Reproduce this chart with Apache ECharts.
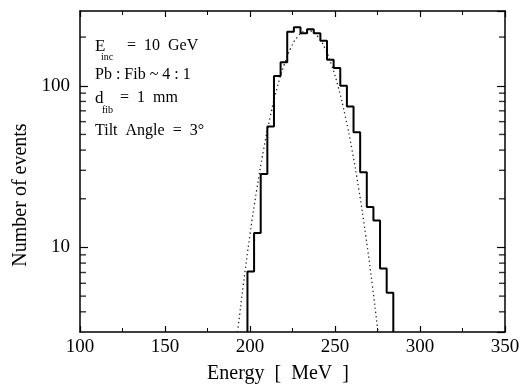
<!DOCTYPE html>
<html><head><meta charset="utf-8">
<script src="https://cdn.jsdelivr.net/npm/echarts@6/dist/echarts.min.js"></script>
<style>html,body{margin:0;padding:0;background:#fff}#c{width:532px;height:391px}</style>
</head><body><div id="c"></div>
<script>
// Histogram: lower bin edges (MeV) and counts
const binEdges = [198.5, 202.4, 206.3, 210.2, 214.1, 218.0, 221.9, 225.8, 229.7, 233.6, 237.5,
                  241.4, 245.3, 249.2, 253.1, 257.0, 260.9, 264.8, 268.7, 272.6, 276.5, 280.4];
const binUpper = 284.3;
const counts = [7.1, 12.3, 28.5, 56, 115, 140, 216, 230, 211, 224, 211,
                190, 145, 129, 100, 74.5, 51.5, 29.2, 17.8, 14.7, 7.4, 5.25];
// Dotted fit curve
const fitE = [192.6, 193, 196, 200, 204, 208, 212, 216, 220, 224, 228, 232, 234,
              236, 240, 244, 248, 252, 256, 260, 264, 268, 272, 275, 275.4];
const fitN = [3.0, 3.2, 5.8, 12.0, 22.9, 40.2, 65.1, 97.4, 134, 171, 201, 218, 220,
              218, 201, 171, 134, 97.4, 65.1, 40.2, 22.9, 12.0, 5.8, 3.2, 3.0];
// Axis settings
const xMin = 100, xMax = 350, xStep = 50;
const yMin = 3, yMax = 290;
const yLabels = [10, 100];
const yMinorTicks = [4, 5, 6, 7, 8, 9, 20, 30, 40, 50, 60, 70, 80, 90, 200];

const FONT = '"Liberation Serif", "DejaVu Serif", serif';

const histData = [[binEdges[0], yMin]];
binEdges.forEach((e, i) => histData.push([e, counts[i]]));
histData.push([binUpper, counts[counts.length - 1]]);
histData.push([binUpper, yMin]);

const fitData = fitE.map((e, i) => [e, fitN[i]]);

const axisLineStyle = { color: '#000', width: 1.5 };
const baseX = {
  type: 'value', min: xMin, max: xMax, interval: xStep,
  axisLine: { show: true, onZero: false, lineStyle: axisLineStyle },
  axisTick: { show: true, inside: true, length: 6, lineStyle: { color: '#000', width: 1.2 } },
  minorTick: { show: true, splitNumber: 2, length: 4, lineStyle: { color: '#000', width: 1 } },
  splitLine: { show: false }, minorSplitLine: { show: false }
};
const baseY = {
  type: 'log', min: yMin, max: yMax, logBase: 10,
  axisLine: { show: true, onZero: false, lineStyle: axisLineStyle },
  axisTick: { show: true, inside: true, length: 8, lineStyle: { color: '#000', width: 1.2 } },
  splitLine: { show: false }
};

const chart = echarts.init(document.getElementById('c'), null, { renderer: 'canvas' });
chart.setOption({
  backgroundColor: '#fff',
  animation: false,
  grid: { left: 80, right: 27, top: 11, bottom: 59 },
  xAxis: [
    Object.assign({}, baseX, {
      position: 'bottom',
      name: 'Energy  [  MeV  ]', nameLocation: 'middle', nameGap: 32,
      nameTextStyle: { fontFamily: FONT, fontSize: 20, color: '#000', padding: [0, 29, 0, 0] },
      axisLabel: { show: true, margin: 6, fontFamily: FONT, fontSize: 19, color: '#000' }
    }),
    Object.assign({}, baseX, { position: 'top', axisLabel: { show: false } })
  ],
  yAxis: [
    Object.assign({}, baseY, {
      position: 'left',
      name: 'Number of events', nameLocation: 'middle', nameGap: 42,
      nameTextStyle: { fontFamily: FONT, fontSize: 20, color: '#000', padding: [0, 47, 0, 0] },
      axisLabel: {
        show: true, margin: 10, fontFamily: FONT, fontSize: 19, color: '#000',
        showMinLabel: false, showMaxLabel: false,
        formatter: v => {
          const r = Math.round(v);
          return (Math.abs(v - r) < 1e-6 && yLabels.includes(r)) ? String(r) : '';
        }
      }
    }),
    Object.assign({}, baseY, { position: 'right', axisLabel: { show: false } })
  ],
  series: [
    {
      type: 'line', name: 'fit', data: fitData, xAxisIndex: 0, yAxisIndex: 0,
      smooth: true, showSymbol: false, symbol: 'none', clip: true,
      lineStyle: { color: '#222', width: 1.3, type: [1.3, 3] }, z: 2
    },
    {
      type: 'line', name: 'hist', data: histData, xAxisIndex: 0, yAxisIndex: 0,
      step: 'end', showSymbol: false, symbol: 'none', clip: true,
      lineStyle: { color: '#000', width: 2 }, z: 3
    },
    {
      type: 'scatter', name: 'minorLeft', xAxisIndex: 0, yAxisIndex: 0,
      data: yMinorTicks.map(v => [xMin, v]), symbol: 'rect', symbolSize: [6, 1.4],
      symbolOffset: [3, 0], itemStyle: { color: '#000' }, silent: true, clip: false, z: 4
    },
    {
      type: 'scatter', name: 'minorRight', xAxisIndex: 0, yAxisIndex: 0,
      data: yMinorTicks.map(v => [xMax, v]), symbol: 'rect', symbolSize: [6, 1.4],
      symbolOffset: [-3, 0], itemStyle: { color: '#000' }, silent: true, clip: false, z: 4
    }
  ],
  graphic: [
    { type: 'text', left: 95, top: 38, style: { text: 'E', font: '17px ' + FONT, fill: '#000' } },
    { type: 'text', left: 101, top: 52, style: { text: 'inc', font: '10px ' + FONT, fill: '#000' } },
    { type: 'text', left: 127, top: 38, style: { text: '=  10  GeV', font: '16px ' + FONT, fill: '#000' } },
    { type: 'text', left: 95, top: 67, style: { text: 'Pb : Fib ~ 4 : 1', font: '16px ' + FONT, fill: '#000' } },
    { type: 'text', left: 95, top: 90, style: { text: 'd', font: '17px ' + FONT, fill: '#000' } },
    { type: 'text', left: 102, top: 105, style: { text: 'fib', font: '10px ' + FONT, fill: '#000' } },
    { type: 'text', left: 120, top: 90, style: { text: '=  1  mm', font: '16px ' + FONT, fill: '#000' } },
    { type: 'text', left: 95, top: 123, style: { text: 'Tilt  Angle  =  3°', font: '16px ' + FONT, fill: '#000' } }
  ]
});
</script></body></html>
